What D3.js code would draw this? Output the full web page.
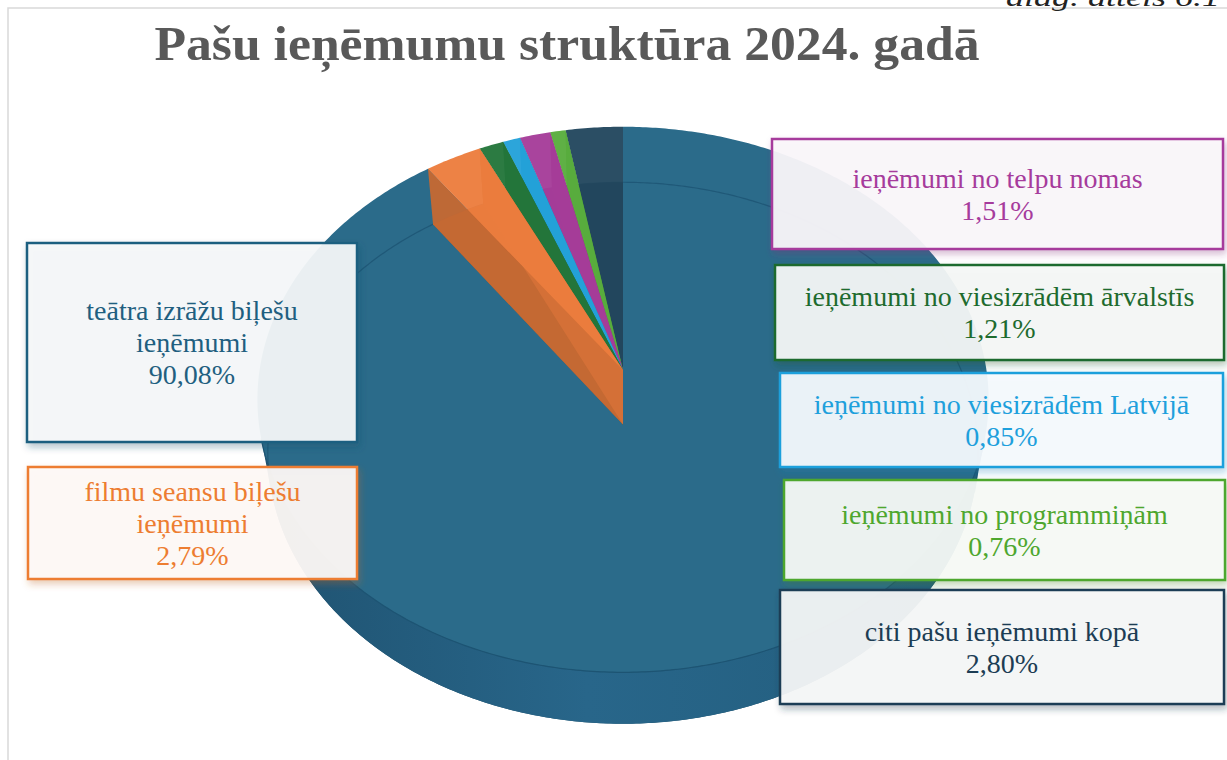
<!DOCTYPE html>
<html>
<head>
<meta charset="utf-8">
<script src="https://cdn.jsdelivr.net/npm/d3@7/dist/d3.min.js"></script>
<style>
  body { margin: 0; background: #fff; }
  svg { display: block; }
</style>
</head>
<body>
<svg id="chart" width="1227" height="760"></svg>
<script>
// --- data -------------------------------------------------------------
var categories = [
    "teātra izrāžu biļešu ieņēmumi",
    "filmu seansu biļešu ieņēmumi",
    "ieņēmumi no viesizrādēm ārvalstīs",
    "ieņēmumi no viesizrādēm Latvijā",
    "ieņēmumi no telpu nomas",
    "ieņēmumi no programmiņām",
    "citi pašu ieņēmumi kopā"
];
var shares = [90.08, 2.79, 1.21, 0.85, 1.51, 0.76, 2.80];

var title = "Pašu ieņēmumu struktūra 2024. gadā";
var caption = "diag. attēls 6.1";

// --- styles -----------------------------------------------------------
var sliceColors = ["#2b6b8a", "#ec7d3d", "#23763a", "#23a1d9", "#a63c99", "#58ad3d", "#22475e"];
var labelColors = ["#1f5f80", "#ed7d31", "#1e6b2e", "#1ea0dc", "#a63b9c", "#4ea72e", "#1c3d54"];

// label boxes (left, top, width, height) in the same order as categories
var boxes = [
    [27, 243, 330, 199],
    [28, 467, 329, 112],
    [775, 265, 449, 95],
    [780, 373, 443, 94],
    [772, 139, 451, 110],
    [784, 480, 441, 100],
    [780, 590, 444, 114]
];

var svg = d3.select("#chart");
var defs = svg.append("defs");

// chart frame (only its top and left edge show)
svg.append("rect")
    .attr("x", 8).attr("y", 8)
    .attr("width", 1240).attr("height", 780)
    .attr("fill", "none")
    .attr("stroke", "#d9d9d9")
    .attr("stroke-width", 1.5);

// caption in the top right corner, cut by the page edge as in the source
svg.append("text")
    .attr("x", 1006).attr("y", 6)
    .attr("font-family", "Liberation Serif, serif")
    .attr("font-style", "italic")
    .attr("font-size", 26)
    .attr("textLength", 214)
    .attr("lengthAdjust", "spacingAndGlyphs")
    .attr("fill", "#222")
    .text(caption);

// title
svg.append("text")
    .attr("x", 567).attr("y", 60)
    .attr("text-anchor", "middle")
    .attr("font-family", "Liberation Serif, serif")
    .attr("font-weight", "bold")
    .attr("font-size", 48)
    .attr("textLength", 825)
    .attr("lengthAdjust", "spacingAndGlyphs")
    .attr("fill", "#595959")
    .text(title);

// --- 3D pie projection ---------------------------------------------------
var cx = 623, cy = 370;        // screen position of the top face centre
var tilt = Math.asin(0.758);   // view elevation
var sn = Math.sin(tilt), cs = Math.cos(tilt);
var dist = 6.2, focal = 2190, depthH = 0.23;
var oy = cy + focal * depthH * cs / (dist - depthH * sn);

function project(a, r, z) {
    var X = r * Math.sin(a), Y = r * Math.cos(a);
    var u = Y * sn + z * cs;
    var d = dist + Y * cs - z * sn;
    return [cx + focal * X / d, oy - focal * u / d];
}

function arcPts(a0, a1, z) {
    var n = Math.max(2, Math.ceil(Math.abs(a1 - a0) / 0.01));
    return d3.range(n + 1).map(function (i) {
        return project(a0 + (a1 - a0) * i / n, 1, z);
    });
}

var line = d3.line();
function closed(pts) { return line(pts) + "Z"; }

// outer wall faces the viewer only on this range
var wallLim = Math.acos(-1 / (dist * cs));

var arcs = d3.pie().sort(null).value(function (d) { return d; })(shares);

var pieG = svg.append("g");

// wall shading for the big slice
var wallGrad = defs.append("linearGradient")
    .attr("id", "wallGrad")
    .attr("gradientUnits", "userSpaceOnUse")
    .attr("x1", 250).attr("x2", 1000).attr("y1", 0).attr("y2", 0);
wallGrad.append("stop").attr("offset", 0).attr("stop-color", "#1f5270");
wallGrad.append("stop").attr("offset", 0.45).attr("stop-color", "#28668a");
wallGrad.append("stop").attr("offset", 1).attr("stop-color", "#225c7b");

function drawSlice(d, i, alpha) {
    var c = d3.color(sliceColors[i]);
    var a0 = d.startAngle, a1 = d.endAngle;
    var g = pieG.append("g").attr("class", "slice");

    // bottom face
    g.append("path")
        .attr("d", closed([project(0, 0, 0)].concat(arcPts(a0, a1, 0))))
        .attr("fill", c.darker(0.8))
        .attr("fill-opacity", alpha);

    // outer wall (front part only)
    var w0 = Math.max(a0, wallLim), w1 = Math.min(a1, 2 * Math.PI - wallLim);
    if (w1 > w0) {
        var top = arcPts(w0, w1, depthH), bot = arcPts(w0, w1, 0).reverse();
        g.append("path")
            .attr("d", closed(top.concat(bot)))
            .attr("fill", i === 0 ? "url(#wallGrad)" : c.darker(0.3))
            .attr("fill-opacity", alpha);
    }

    // radial walls
    [a0, a1].forEach(function (a, k) {
        g.append("path")
            .attr("d", closed([project(a, 0, depthH), project(a, 1, depthH),
                               project(a, 1, 0), project(a, 0, 0)]))
            .attr("fill", c.darker(k === 0 ? 0.5 : 0.3))
            .attr("fill-opacity", alpha);
    });

    // top face
    g.append("path")
        .attr("d", closed([project(0, 0, depthH)].concat(arcPts(a0, a1, depthH))))
        .attr("fill", c)
        .attr("fill-opacity", alpha);

    return g;
}

// the large slice first, opaque
drawSlice(arcs[0], 0, 1);

// edge of the top face against the front wall
pieG.append("path")
    .attr("d", line(arcPts(wallLim, 2 * Math.PI - wallLim, depthH)))
    .attr("fill", "none")
    .attr("stroke", "#1d5473")
    .attr("stroke-width", 1.2);

// back edge of the base, seen through the top
pieG.append("path")
    .attr("d", line(arcPts(-wallLim, wallLim, 0)))
    .attr("fill", "none")
    .attr("stroke", "#1d5473")
    .attr("stroke-width", 1.2)
    .attr("stroke-opacity", 0.8);

// small slices, painted from the last one back to the first
for (var i = arcs.length - 1; i >= 1; i--) {
    drawSlice(arcs[i], i, 0.96);
}

// --- label boxes ---------------------------------------------------------
var fmt = d3.formatLocale({ decimal: ",", thousands: " ", grouping: [3], currency: ["", ""] }).format(".2f");
var fontSize = 28, lineH = 32;

categories.forEach(function (name, i) {
    var b = boxes[i], col = labelColors[i];

    var f = defs.append("filter")
        .attr("id", "sh" + i)
        .attr("x", "-10%").attr("y", "-20%")
        .attr("width", "125%").attr("height", "150%");
    f.append("feDropShadow")
        .attr("dx", 2).attr("dy", 4)
        .attr("stdDeviation", 3.5)
        .attr("flood-color", d3.color(col).darker(0.6))
        .attr("flood-opacity", 0.35);

    var g = svg.append("g");
    g.append("rect")
        .attr("x", b[0]).attr("y", b[1])
        .attr("width", b[2]).attr("height", b[3])
        .attr("fill", d3.interpolateRgb("#ffffff", col)(0.04))
        .attr("fill-opacity", 0.93)
        .attr("stroke", col)
        .attr("stroke-width", 2.5)
        .attr("filter", "url(#sh" + i + ")");

    var t = g.append("text")
        .attr("text-anchor", "middle")
        .attr("font-family", "Liberation Serif, serif")
        .attr("font-size", fontSize)
        .attr("fill", col);

    // word wrap to the box width
    var words = name.split(" "), lines = [], cur = "";
    var probe = t.append("tspan");
    words.forEach(function (w) {
        var test = cur ? cur + " " + w : w;
        probe.text(test);
        if (probe.node().getComputedTextLength() > b[2] - 40 && cur) {
            lines.push(cur);
            cur = w;
        } else {
            cur = test;
        }
    });
    lines.push(cur);
    probe.remove();
    lines.push(fmt(shares[i]) + "%");

    var mid = b[1] + b[3] / 2;
    lines.forEach(function (l, k) {
        t.append("tspan")
            .attr("x", b[0] + b[2] / 2)
            .attr("y", mid + (k - (lines.length - 1) / 2) * lineH + 9.5)
            .text(l);
    });
});
</script>
</body>
</html>
